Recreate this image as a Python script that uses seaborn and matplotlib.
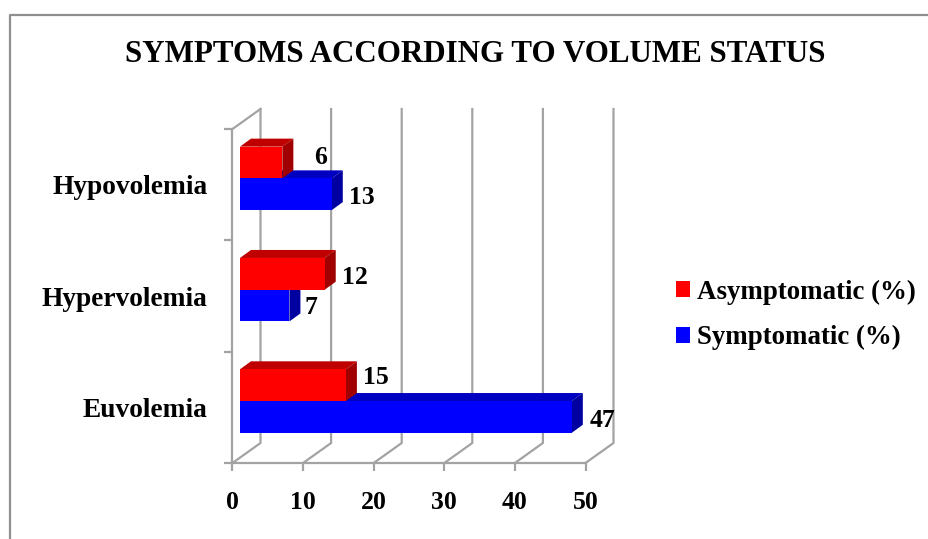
import matplotlib
matplotlib.use("Agg")
import matplotlib.pyplot as plt
from matplotlib.lines import Line2D
from matplotlib.patches import Polygon
import pandas as pd
import seaborn as sns

# Chart data
volume_status = ["Hypovolemia", "Hypervolemia", "Euvolemia"]
asymptomatic = [6, 12, 15]
symptomatic = [13, 7, 47]
series_names = ["Asymptomatic (%)", "Symptomatic (%)"]
x_ticks = [0, 10, 20, 30, 40, 50]

W, H = 929, 539
GREY = "#a3a3a3"
FACE = {series_names[0]: "#ff0000", series_names[1]: "#0000ff"}
TOP = {series_names[0]: "#c00000", series_names[1]: "#0000c0"}
SIDE = {series_names[0]: "#a00000", series_names[1]: "#0000a0"}
SERIF = "Liberation Serif"

sns.set_theme(style="white")
plt.rcParams["font.family"] = SERIF
plt.rcParams["font.weight"] = "bold"
plt.rcParams["text.color"] = "black"

fig = plt.figure(figsize=(W / 100, H / 100), dpi=100, facecolor="white")

# Front plane of the oblique box, positioned in pixels
left, right, top, bottom = 232.5, 585.5, 129.0, 463.0
ax = fig.add_axes([left / W, 1 - bottom / H, (right - left) / W, (bottom - top) / H])

df = pd.DataFrame({
    "status": volume_status * 2,
    "value": asymptomatic + symptomatic,
    "series": [series_names[0]] * 3 + [series_names[1]] * 3,
})
sns.barplot(data=df, x="value", y="status", hue="series", order=volume_status,
            hue_order=series_names, palette=FACE, orient="h", width=0.57,
            dodge=True, saturation=1, errorbar=None, ax=ax, legend=False)
ax.set_xlim(0, 50)
ax.set_ylim(2.5, -0.5)
ax.set_xlabel("")
ax.set_ylabel("")
ax.set_facecolor("none")

# Pixel-to-data scale factors for the oblique offsets
px_x = 50 / (right - left)
px_y = 3 / (bottom - top)
wall_dx, wall_dy = 28 * px_x, 20 * px_y
bar_dx, bar_dy = 11 * px_x, 8 * px_y
shift_x, shift_y = 7.5 * px_x, 6.3 * px_y


def wall(xs, ys):
    ax.plot(xs, ys, color=GREY, lw=1.6, clip_on=False, zorder=1,
            solid_capstyle="projecting")


# Back wall verticals with their floor slants, and the top slant at zero
for t in x_ticks:
    wall([t, t + wall_dx, t + wall_dx],
         [2.5, 2.5 - wall_dy, -0.5 - wall_dy])
wall([0, wall_dx], [-0.5, -0.5 - wall_dy])

# Extruded faces are built from each seaborn bar; the blue series goes first
# so the red bars overlap its top face
n = len(volume_status)
bars = list(ax.patches)[:2 * n]
for series_idx in (1, 0):
    name = series_names[series_idx]
    for bar in bars[series_idx * n: (series_idx + 1) * n]:
        x0 = shift_x
        w = bar.get_width()
        y0 = bar.get_y() - shift_y
        h = bar.get_height()
        z = 3 + (1 - series_idx) * 2
        bar.set_x(x0)
        bar.set_y(y0)
        bar.set(clip_on=False, zorder=z + 1, linewidth=0)
        ax.add_patch(Polygon([(x0, y0), (x0 + bar_dx, y0 - bar_dy),
                              (x0 + w + bar_dx, y0 - bar_dy), (x0 + w, y0)],
                             closed=True, fc=TOP[name], lw=0, clip_on=False, zorder=z))
        ax.add_patch(Polygon([(x0 + w, y0), (x0 + w + bar_dx, y0 - bar_dy),
                              (x0 + w + bar_dx, y0 + h - bar_dy), (x0 + w, y0 + h)],
                             closed=True, fc=SIDE[name], lw=0, clip_on=False, zorder=z))

# Axis styling
for s in ("top", "right"):
    ax.spines[s].set_visible(False)
for s in ("left", "bottom"):
    ax.spines[s].set_color(GREY)
    ax.spines[s].set_linewidth(1.6)
    ax.spines[s].set_zorder(2)
ax.set_xticks(x_ticks)
ax.set_yticks([-0.5, 0.5, 1.5, 2.5], minor=True)
ax.set_yticks(range(n), labels=volume_status)
ax.tick_params(axis="x", which="major", length=5.5, width=1.6, color=GREY,
               pad=14.5, labelsize=18.5, bottom=True, labelcolor="black")
ax.tick_params(axis="y", which="major", length=0, pad=18, labelsize=19.7,
               labelcolor="black")
ax.tick_params(axis="y", which="minor", length=5.5, width=1.6, color=GREY, left=True)

# Value labels with per-bar pixel nudges from the bar end
label_nudge = {
    (0, 0): (38, 5), (0, 1): (30, -3),
    (1, 0): (30, -4), (1, 1): (22, -2),
    (2, 0): (30, 8), (2, 1): (31, -4),
}
for series_idx, vals in enumerate((asymptomatic, symptomatic)):
    for cat_idx, v in enumerate(vals):
        bar = bars[series_idx * n + cat_idx]
        nx, ny = label_nudge[(cat_idx, series_idx)]
        ax.annotate(str(v), (bar.get_x() + v, bar.get_y() + bar.get_height() / 2),
                    xytext=(nx * 0.72, ny * 0.72), textcoords="offset points",
                    ha="center", va="center", fontsize=18.5, color="black",
                    fontweight="bold", zorder=8, annotation_clip=False)

fig.text(475.5 / W, 1 - 55 / H, "SYMPTOMS ACCORDING TO VOLUME STATUS",
         ha="center", va="center", fontsize=22.3, fontweight="bold", color="black")

# Legend keys take their colours from the bars themselves
handles = [bars[0], bars[n]]
leg = fig.legend(handles, series_names, loc="center left",
                 bbox_to_anchor=(676 / W, 1 - 315 / H), frameon=False, fontsize=19.4,
                 handlelength=0.52, handleheight=0.52, handletextpad=0.26,
                 labelspacing=0.76, borderpad=0, borderaxespad=0)

# Partial outer frame, open on the right and at the bottom
fig.add_artist(Line2D([10 / W, 10 / W, 1], [0, 1 - 15 / H, 1 - 15 / H],
                      transform=fig.transFigure, color="#8f8f8f", lw=1.6))

fig.savefig("out.png", dpi=100, facecolor="white")
